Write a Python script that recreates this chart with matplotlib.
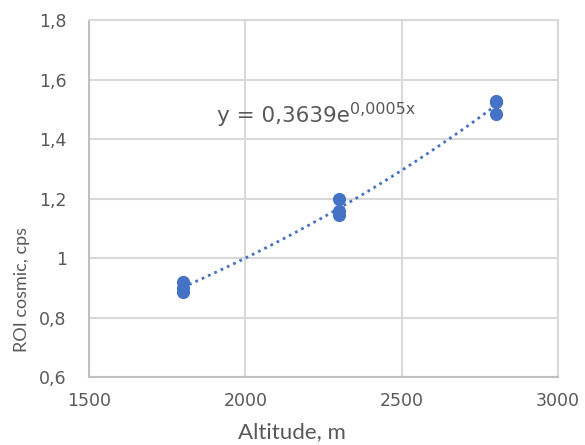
import numpy as np
import matplotlib
matplotlib.use("Agg")
import matplotlib.pyplot as plt
from matplotlib.ticker import FuncFormatter

# altitude of each measurement and the cosmic ROI count rate
altitude = [1800, 1800, 1800, 2300, 2300, 2300, 2800, 2800, 2800]
roi_cosmic = [0.92, 0.90, 0.885, 1.20, 1.16, 1.145, 1.525, 1.53, 1.485]

x_ticks = [1500, 2000, 2500, 3000]
y_ticks = [0.6, 0.8, 1.0, 1.2, 1.4, 1.6, 1.8]

blue = '#4472C4'
grey_text = '#595959'
grid_col = '#D9D9D9'

fig = plt.figure(figsize=(5.85, 4.45), dpi=100)
ax = fig.add_axes([0.152, 0.153, 0.802, 0.801])

ax.scatter(altitude, roi_cosmic, s=90, color=blue, zorder=3, linewidths=0)

# exponential trend line, fitted on log of the values
b, ln_a = np.polyfit(altitude, np.log(roi_cosmic), 1)
xs = np.linspace(min(altitude), max(altitude), 100)
ax.plot(xs, np.exp(ln_a) * np.exp(b * xs), linestyle=(0, (1, 1.5)),
        color=blue, lw=2, zorder=2)

# trend equation, exponent drawn as a separate smaller text
eq = ax.text(1909, 1.477, 'y = 0,3639e', fontsize=15.5, color=grey_text,
             va='center', ha='left')
ax.annotate('0,0005x', xy=(1.0, 1.0), xycoords=eq, xytext=(0, 3),
            textcoords='offset points', fontsize=11.5, color=grey_text,
            va='top', ha='left')

ax.set_xlim(1500, 3000)
ax.set_ylim(0.6, 1.8)
ax.set_xticks(x_ticks)
ax.set_yticks(y_ticks)
ax.yaxis.set_major_formatter(FuncFormatter(lambda v, p: f'{v:g}'.replace('.', ',')))
ax.tick_params(length=0, labelsize=12.5, labelcolor=grey_text)
ax.tick_params(axis='y', pad=16)
ax.tick_params(axis='x', pad=11)

ax.grid(True, color=grid_col, lw=1.5)
ax.set_axisbelow(True)
for side in ['top', 'right']:
    ax.spines[side].set_color(grid_col)
    ax.spines[side].set_linewidth(1.5)
for side in ['left', 'bottom']:
    ax.spines[side].set_color('#BFBFBF')
    ax.spines[side].set_linewidth(1.5)

ax.set_xlabel('Altitude, m', fontsize=16, color=grey_text, family='Lato', va='center')
ax.set_ylabel('ROI cosmic, cps', fontsize=13, color=grey_text, family='Lato')
ax.xaxis.set_label_coords(0.433, -0.154)
ax.yaxis.set_label_coords(-0.125, 0.244)

fig.savefig('out.png', dpi=100)
